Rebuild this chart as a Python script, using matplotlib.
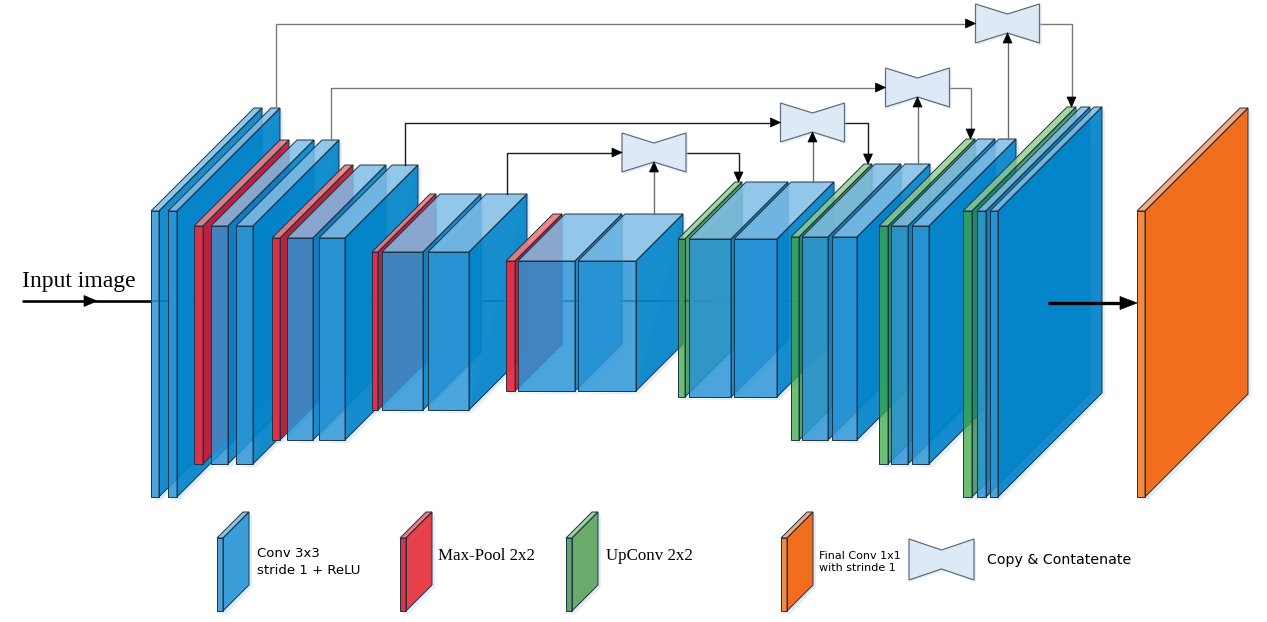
import matplotlib.pyplot as plt
from matplotlib.patches import Polygon

W, H = 1267, 622

# kinds of the slabs in each stage, left to right (encoder, decoder, output)
stage_kinds = [
    ['conv', 'conv'],
    ['pool', 'conv', 'conv'],
    ['pool', 'conv', 'conv'],
    ['pool', 'conv', 'conv'],
    ['pool', 'conv', 'conv'],
    ['up', 'conv', 'conv'],
    ['up', 'conv', 'conv'],
    ['up', 'conv', 'conv'],
    ['up', 'conv', 'conv'],
    ['final'],
]

# geometry of each stage (pixels)
stage_x = [[151, 168], [194, 211, 236], [272, 287, 319], [372, 382, 428], [506, 518, 578],
           [678, 689, 734], [791, 802, 832], [879, 891, 912], [963, 977, 990], [1137]]
stage_w = [[8, 9], [9, 17, 17], [8, 26, 26], [6, 41, 41], [9, 57, 58],
           [7, 42, 43], [8, 26, 25], [9, 17, 17], [9, 9, 8], [8]]
stage_top = [211, 226, 238, 252, 261, 239, 237, 226, 211, 211]
stage_bottom = [497, 464, 440, 410, 391, 397, 440, 464, 497, 497]
stage_depth = [103, 86, 73, 58, 47, 57, 73, 87, 104, 103]

# skip connections: (encoder stage, decoder stage), top of the copy box, line colour
skips = [(3, 5), (2, 6), (1, 7), (0, 8)]
skip_box_top = [133, 103, 68, 4]
skip_color = ['#1a1a1a', '#1a1a1a', '#7a7a7a', '#7a7a7a']

# legend
legend_kinds = ['conv', 'pool', 'up', 'final', 'copy']
legend_labels = ['Conv 3x3\nstride 1 + ReLU', 'Max-Pool 2x2', 'UpConv 2x2',
                 'Final Conv 1x1\nwith strinde 1', 'Copy & Contatenate']
legend_x = [217, 400, 566, 781, 909]
legend_text_x = [257, 438, 606, 819, 987]
legend_font = [('DejaVu Sans', 9.5), ('Liberation Serif', 12.2), ('Liberation Serif', 12.2),
               ('DejaVu Sans', 8), ('DejaVu Sans', 10.2)]

# front, side, top colours and alphas
colors = {
    'conv': ('#2b95d6', '#0484ca', '#80bde6'),
    'pool': ('#ec2a40', '#c21e36', '#f27a7a'),
    'up': ('#3aa843', '#2a8a4a', '#8fcf8a'),
    'final': ('#f58a40', '#f06e1e', '#f8aa80'),
}
alphas = {
    'conv': (0.85, 0.93, 0.85),
    'pool': (0.95, 0.95, 0.9),
    'up': (0.75, 0.8, 0.8),
    'final': (1.0, 1.0, 1.0),
}
legend_colors = {
    'conv': ('#4aa2da', '#3a9fd8', '#8cc4e8'),
    'pool': ('#e3323f', '#e8404a', '#f07878'),
    'up': ('#62a562', '#6aaa6a', '#9fd09a'),
    'final': ('#f58a40', '#f06e1e', '#f8aa80'),
}
EDGE = '#1d3347'
BOX_FACE = '#dde9f5'
BOX_EDGE = '#5f6f80'


def draw_slab(ax, x, w, top, bottom, d, kind, z, cols=None, alph=None):
    front = [(x, top), (x + w, top), (x + w, bottom), (x, bottom)]
    side = [(x + w, top), (x + w + d, top - d), (x + w + d, bottom - d), (x + w, bottom)]
    upper = [(x, top), (x + d, top - d), (x + w + d, top - d), (x + w, top)]
    cf, cs, ct = (cols or colors)[kind]
    af, as_, at = alph or alphas[kind]
    # soft glow under the slab
    glow = [(x + 2, bottom + 3), (x + w + 3, bottom + 3), (x + w + d + 3, bottom - d + 2),
            (x + w + d + 3, top - d + 4), (x + w + d, top - d), (x + w, bottom)]
    ax.add_patch(Polygon(glow, closed=True, facecolor='#a9cfee', alpha=0.35, edgecolor='none', zorder=1.2))
    for pts, c, a in [(side, cs, as_), (upper, ct, at), (front, cf, af)]:
        ax.add_patch(Polygon(pts, closed=True, facecolor=c, alpha=a, edgecolor='none', zorder=z))
        ax.add_patch(Polygon(pts, closed=True, facecolor='none', edgecolor=EDGE, lw=0.7, zorder=z + 0.01))


def draw_bowtie(ax, x0, y0, w, h, dip, z=5):
    pts = [(x0, y0), (x0 + w / 2, y0 + dip), (x0 + w, y0), (x0 + w, y0 + h),
           (x0 + w / 2, y0 + h - dip), (x0, y0 + h)]
    shadow = [(px + 2, py + 2) for px, py in pts]
    ax.add_patch(Polygon(shadow, closed=True, facecolor='#b9d3ea', alpha=0.35, edgecolor='none', zorder=z - 0.1))
    ax.add_patch(Polygon(pts, closed=True, facecolor=BOX_FACE, edgecolor=BOX_EDGE, lw=0.9, zorder=z))


def head(ax, tip, direction, length=10, half=4.5, color='black', z=6):
    tx, ty = tip
    if direction == 'right':
        pts = [(tx, ty), (tx - length, ty - half), (tx - length, ty + half)]
    elif direction == 'up':
        pts = [(tx, ty), (tx - half, ty + length), (tx + half, ty + length)]
    else:
        pts = [(tx, ty), (tx - half, ty - length), (tx + half, ty - length)]
    ax.add_patch(Polygon(pts, closed=True, facecolor=color, edgecolor=color, lw=0.5, zorder=z))


def back_top_center(stage, i):
    d = stage_depth[stage]
    return stage_x[stage][i] + stage_w[stage][i] / 2 + d, stage_top[stage] - d


fig = plt.figure(figsize=(W / 100, H / 100), dpi=100)
ax = fig.add_axes([0, 0, 1, 1])
ax.set_xlim(0, W)
ax.set_ylim(H, 0)
ax.axis('off')

# input arrow and the faint line through the slabs
ax.plot([22, 152], [301, 301], color='black', lw=1.9, zorder=1, solid_capstyle='butt')
head(ax, (97, 301), 'right', length=13, half=5.5, z=1.5)
ax.plot([152, 1048], [301, 301], color='#15324a', lw=1.5, zorder=1)
ax.text(22, 287, 'Input image', family='Liberation Serif', fontsize=17, ha='left', va='baseline')

# slabs
z = 2
for s, kinds in enumerate(stage_kinds):
    for i, kind in enumerate(kinds):
        draw_slab(ax, stage_x[s][i], stage_w[s][i], stage_top[s], stage_bottom[s],
                  stage_depth[s], kind, z)
        z += 0.05

# output arrow
ax.plot([1048, 1122], [303, 303], color='black', lw=2.4, zorder=9, solid_capstyle='butt')
head(ax, (1137, 303), 'right', length=17, half=6.5, z=9)

# skip connections with copy boxes
BOX_W, BOX_H, DIP = 64, 39, 10
for (enc, dec), btop, col in zip(skips, skip_box_top, skip_color):
    sx, sy = back_top_center(enc, len(stage_kinds[enc]) - 1)
    ux, uy = back_top_center(dec - 1, len(stage_kinds[dec - 1]) - 1)
    dx, dy = back_top_center(dec, 0)
    bl, br = ux - BOX_W / 2, ux + BOX_W / 2
    my = btop + BOX_H / 2
    ax.plot([sx, sx, bl - 9], [sy, my, my], color=col, lw=1.0, zorder=4)
    head(ax, (bl, my), 'right', length=10, half=4.5)
    ax.plot([ux, ux], [uy, btop + BOX_H - DIP + 9], color='#6e6e6e', lw=1.0, zorder=4)
    head(ax, (ux, btop + BOX_H - DIP), 'up', length=10, half=4.5)
    ax.plot([br, dx, dx], [my, my, dy - 9], color=col, lw=1.0, zorder=4)
    head(ax, (dx, dy), 'down', length=10, half=4.5)
    draw_bowtie(ax, bl, btop, BOX_W, BOX_H, DIP)

# legend
for kind, label, lx, tx, (fam, fs) in zip(legend_kinds, legend_labels, legend_x,
                                          legend_text_x, legend_font):
    if kind == 'copy':
        draw_bowtie(ax, lx, 539, 65, 41, 11)
        ty = 560
    else:
        draw_slab(ax, lx, 6, 538, 611, 26, kind, 3, cols=legend_colors, alph=(1, 1, 1))
        ty = 562 if '\n' in label else 556
    ax.text(tx, ty, label, family=fam, fontsize=fs, ha='left', va='center', linespacing=1.35)

fig.savefig('out.png', dpi=100)
